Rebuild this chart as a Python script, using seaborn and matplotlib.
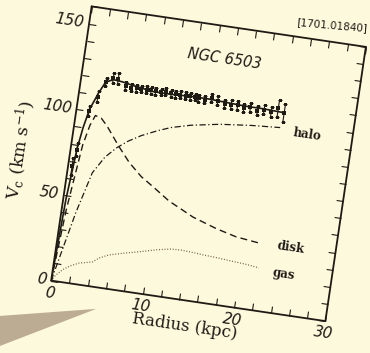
import numpy as np
import pandas as pd
import seaborn as sns
import matplotlib.pyplot as plt
from matplotlib.transforms import Affine2D
from matplotlib.patches import Polygon
import mpl_toolkits.axisartist.floating_axes as floating_axes
from mpl_toolkits.axisartist.grid_finder import FixedLocator, DictFormatter

# observed rotation curve (radius kpc, Vc km/s, error)
r_obs = [0.43, 0.69, 1.38, 2.09, 2.74, 3.46, 4.0, 4.9, 5.5, 6.1, 6.6, 7.2, 7.7,
         8.2, 8.8, 9.3, 9.9, 10.4, 10.9, 11.5, 12.0, 12.5, 12.9, 13.6, 14.3,
         15.0, 15.8, 16.5, 17.2, 17.9, 18.6, 19.4, 20.1, 20.9, 21.6, 22.3]
v_obs = [67, 77, 100, 109, 118, 121, 121, 117.5, 117, 117, 117, 117, 117,
         117, 117, 117.5, 117, 117, 117, 117, 117, 117, 116.6, 116.3, 117.7,
         116.8, 115.5, 115.7, 115.8, 114.9, 115.8, 114.5, 115.6, 114.9, 117.5, 115.4]
e_obs = [5, 4, 3, 3, 2.5, 3, 3, 2.5, 2, 2, 2, 2, 2,
         2, 2, 2, 2, 2, 2, 2, 2, 2, 2, 2, 2.5,
         2.5, 2.5, 2.5, 2.5, 2.5, 2.5, 2.5, 2.5, 3, 5, 5]

# fitted components
r_tot = [0, 0.3, 0.7, 1.0, 1.4, 2.1, 2.7, 3.5, 4.5, 6, 8, 10, 12, 14, 16, 18, 20, 22.3]
v_tot = [0, 48, 78, 90, 101, 111, 118, 120, 119.5, 118, 116.5, 116.5, 117, 117,
         116.5, 116, 116, 115.5]

r_disk = [0, 0.5, 1.23, 1.7, 2.13, 2.8, 3.54, 5.07, 6.5, 8.0, 9.57, 11.36, 14.2,
          16.87, 19.1, 21.8]
v_disk = [0, 42, 80, 92, 98, 97, 93, 82.7, 74, 67, 61.7, 55.4, 48.2, 43.6, 40.6, 38.9]

r_halo = [0, 0.8, 1.57, 2.7, 3.8, 4.92, 6, 7.36, 9, 10.4, 12.5, 15.6, 19, 22.1]
v_halo = [0, 21, 41, 65, 75, 81.4, 86, 90.4, 94.5, 97.5, 100.5, 103.5, 105.5, 106.7]

r_gas = [0, 0.4, 1.08, 1.8, 2.73, 3.4, 4.11, 4.8, 5.75, 7.5, 9.19, 10.8, 12.29,
         13.36, 14.8, 15.88, 17.5, 19.13, 20.5, 22.03]
v_gas = [0, 3.5, 7.3, 10, 12.4, 13.2, 14.1, 17, 19.5, 22, 24.2, 26.5, 28.1,
         28.4, 28, 27.5, 27, 26.3, 25.8, 24.8]

x_ticks = list(range(0, 31, 2))
y_ticks = list(range(0, 161, 10))
x_labels = {v: str(v) for v in [0, 10, 20, 30]}
y_labels = {v: str(v) for v in [0, 50, 100, 150]}

sns.set_style("white")
plt.rcParams['font.family'] = ['DejaVu Sans']
plt.rcParams['mathtext.fontset'] = 'dejavuserif'

bg = '#fdf9dd'
ink = '#1e1a14'
tilt = -8.4

fig = plt.figure(figsize=(3.70, 3.53), dpi=100, facecolor=bg)

# page shadow in the lower left corner
fig.patches.append(Polygon([[0, 0.105], [0.26, 0.125], [0, 0.02]], closed=True,
                           transform=fig.transFigure, facecolor='#a8927c',
                           edgecolor='none', alpha=0.75))

# the scanned page is rotated, so use a rotated floating axes
tr = Affine2D().scale(1 / 30, 1 / 160).rotate_deg(tilt)
helper = floating_axes.GridHelperCurveLinear(
    tr, extremes=(0, 30, 0, 160),
    grid_locator1=FixedLocator(x_ticks), grid_locator2=FixedLocator(y_ticks),
    tick_formatter1=DictFormatter(x_labels), tick_formatter2=DictFormatter(y_labels))
ax = fig.add_axes([48 / 370, 28.5 / 353, 321 / 370, 321.5 / 353],
                  axes_class=floating_axes.FloatingAxes, grid_helper=helper)
ax.patch.set_facecolor(bg)

for side in ["left", "bottom", "top", "right"]:
    ax.axis[side].line.set_color(ink)
    ax.axis[side].line.set_linewidth(1.3)
    ax.axis[side].major_ticks.set_color(ink)
    ax.axis[side].major_ticks.set_ticksize(5)
    ax.axis[side].major_ticks.set_tick_out(False)
    ax.axis[side].major_ticklabels.set_fontsize(11)
    ax.axis[side].major_ticklabels.set_fontstyle('italic')
    ax.axis[side].major_ticklabels.set_color(ink)
for side in ["top", "right"]:
    ax.axis[side].major_ticklabels.set_visible(False)

ax.axis["bottom"].label.set_text("Radius (kpc)")
ax.axis["bottom"].label.set_fontsize(12)
ax.axis["bottom"].label.set_family('DejaVu Serif')
ax.axis["bottom"].label.set_color(ink)
ax.axis["bottom"].label.set_pad(0)

fig.text(20 / 370, 1 - 150 / 353, r"V$_{\rm c}$ (km s$^{-1}$)", rotation=90 + tilt,
         ha='center', va='center', fontsize=12.5, family='DejaVu Serif', color=ink)

aux = ax.get_aux_axes(tr)
aux.patch = ax.patch
ax.patch.zorder = 0.9

sns.lineplot(x=r_tot, y=v_tot, ax=aux, color=ink, linewidth=1.2, estimator=None)
sns.lineplot(x=r_disk, y=v_disk, ax=aux, color=ink, linewidth=1.0,
             linestyle=(0, (5, 3)), estimator=None)
sns.lineplot(x=r_halo, y=v_halo, ax=aux, color=ink, linewidth=0.9,
             linestyle=(0, (5, 2, 1, 2)), estimator=None)
sns.lineplot(x=r_gas, y=v_gas, ax=aux, color='#6e604c', linewidth=0.9,
             linestyle=(0, (0.8, 1.4)), estimator=None)
aux.errorbar(r_obs, v_obs, yerr=e_obs, fmt='none', ecolor=ink,
             elinewidth=0.8, capsize=1.5, capthick=0.8)
sns.scatterplot(x=r_obs, y=v_obs, ax=aux, color=ink, marker='s', s=6,
                linewidth=0, zorder=5)

aux.text(15, 141, "NGC 6503", rotation=tilt, rotation_mode='anchor',
         ha='center', va='center', fontsize=10.5, fontstyle='italic', color=ink)
for lab, yy in [("halo", 105), ("disk", 39), ("gas", 23)]:
    aux.text(23.6, yy, lab, rotation=tilt, rotation_mode='anchor', ha='left',
             va='center', fontsize=8.5, family='DejaVu Serif', weight='bold',
             color=ink)

fig.text(0.897, 0.928, "[1701.01840]", rotation=-5, ha='center', va='center',
         fontsize=7.5, color=ink)

fig.savefig('out.png', dpi=100, facecolor=bg)
